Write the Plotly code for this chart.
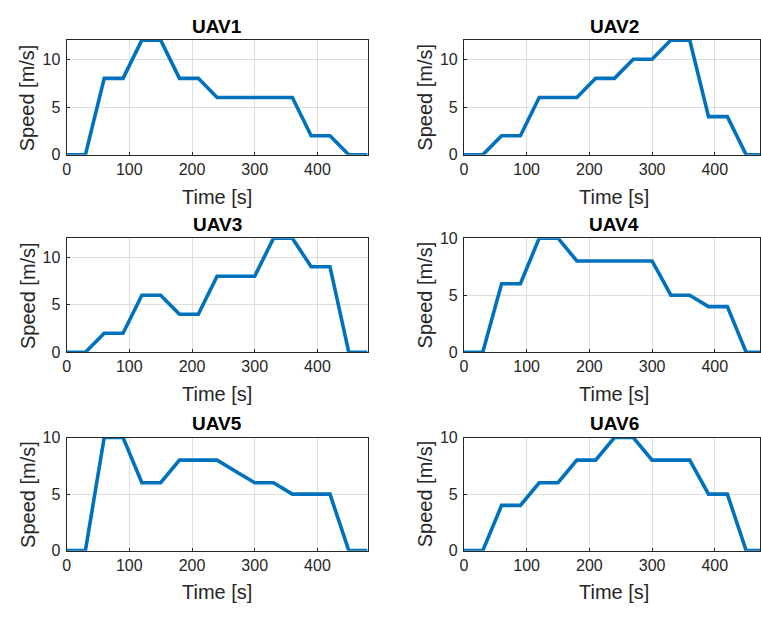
import plotly.graph_objects as go

time_s = [0, 30, 60, 90, 120, 150, 180, 210, 240, 270, 300, 330, 360, 390, 420, 450, 480]
uav_names = ["UAV1", "UAV2", "UAV3", "UAV4", "UAV5", "UAV6"]
uav1 = [0, 0, 8, 8, 12, 12, 8, 8, 6, 6, 6, 6, 6, 2, 2, 0, 0]
uav2 = [0, 0, 2, 2, 6, 6, 6, 8, 8, 10, 10, 12, 12, 4, 4, 0, 0]
uav3 = [0, 0, 2, 2, 6, 6, 4, 4, 8, 8, 8, 12, 12, 9, 9, 0, 0]
uav4 = [0, 0, 6, 6, 10, 10, 8, 8, 8, 8, 8, 5, 5, 4, 4, 0, 0]
uav5 = [0, 0, 10, 10, 6, 6, 8, 8, 8, 7, 6, 6, 5, 5, 5, 0, 0]
uav6 = [0, 0, 4, 4, 6, 6, 8, 8, 10, 10, 8, 8, 8, 5, 5, 0, 0]
series = [uav1, uav2, uav3, uav4, uav5, uav6]
y_max = [12, 12, 12, 10, 10, 10]
x_ticks = [0, 100, 200, 300, 400]
y_ticks = [0, 5, 10]

W, H = 761, 617
FONT = "Liberation Sans, Arial, sans-serif"
TXT = "#262626"

# pixel layout
cols = [(63, 366, 480), (463, 761, 480 * (761 - 463) / 303)]
rows = [(33, 151), (236.7, 354), (441.7, 558)]

fig = go.Figure()
annotations = []
layout = {}
for i, (name, ys) in enumerate(zip(uav_names, series)):
    r, c = divmod(i, 2)
    x0, x1, xr = cols[c]
    top, bot = rows[r]
    ax = "" if i == 0 else str(i + 1)
    fig.add_trace(go.Scatter(
        x=time_s, y=ys, mode="lines",
        line=dict(color="#0072BD", width=3.6),
        xaxis="x" + ax, yaxis="y" + ax, showlegend=False,
    ))
    common = dict(showline=True, linecolor=TXT, linewidth=1, mirror=True,
                  showgrid=True, gridcolor="#dedede", gridwidth=1,
                  zeroline=False, ticks="inside", ticklen=3, tickcolor=TXT,
                  tickfont=dict(family=FONT, size=16, color=TXT))
    layout["xaxis" + ax] = dict(common, domain=[x0 / W, x1 / W], range=[0, xr],
                                tickvals=x_ticks, anchor="y" + ax)
    layout["yaxis" + ax] = dict(common, domain=[1 - bot / H, 1 - top / H],
                                range=[0, y_max[i]], tickvals=y_ticks,
                                anchor="x" + ax, ticklabelstandoff=2)
    cx = (x0 + (x0 + 303)) / 2
    annotations.append(dict(text="<b>" + name + "</b>", x=cx / W, y=1 - (top - 14) / H,
                            xref="paper", yref="paper", showarrow=False,
                            xanchor="center", yanchor="middle",
                            font=dict(family=FONT, size=19, color="#000000")))
    annotations.append(dict(text="Time [s]", x=cx / W, y=1 - (bot + 43) / H,
                            xref="paper", yref="paper", showarrow=False,
                            xanchor="center", yanchor="middle",
                            font=dict(family=FONT, size=20, color=TXT)))
    annotations.append(dict(text="Speed [m/s]", x=(x0 - 39) / W, y=1 - (top + bot) / 2 / H,
                            xref="paper", yref="paper", showarrow=False, textangle=-90,
                            xanchor="center", yanchor="middle",
                            font=dict(family=FONT, size=20, color=TXT)))

fig.update_layout(width=W, height=H, margin=dict(l=0, r=0, t=0, b=0),
                  paper_bgcolor="white", plot_bgcolor="white",
                  annotations=annotations, **layout)
fig.write_html("out.html")
